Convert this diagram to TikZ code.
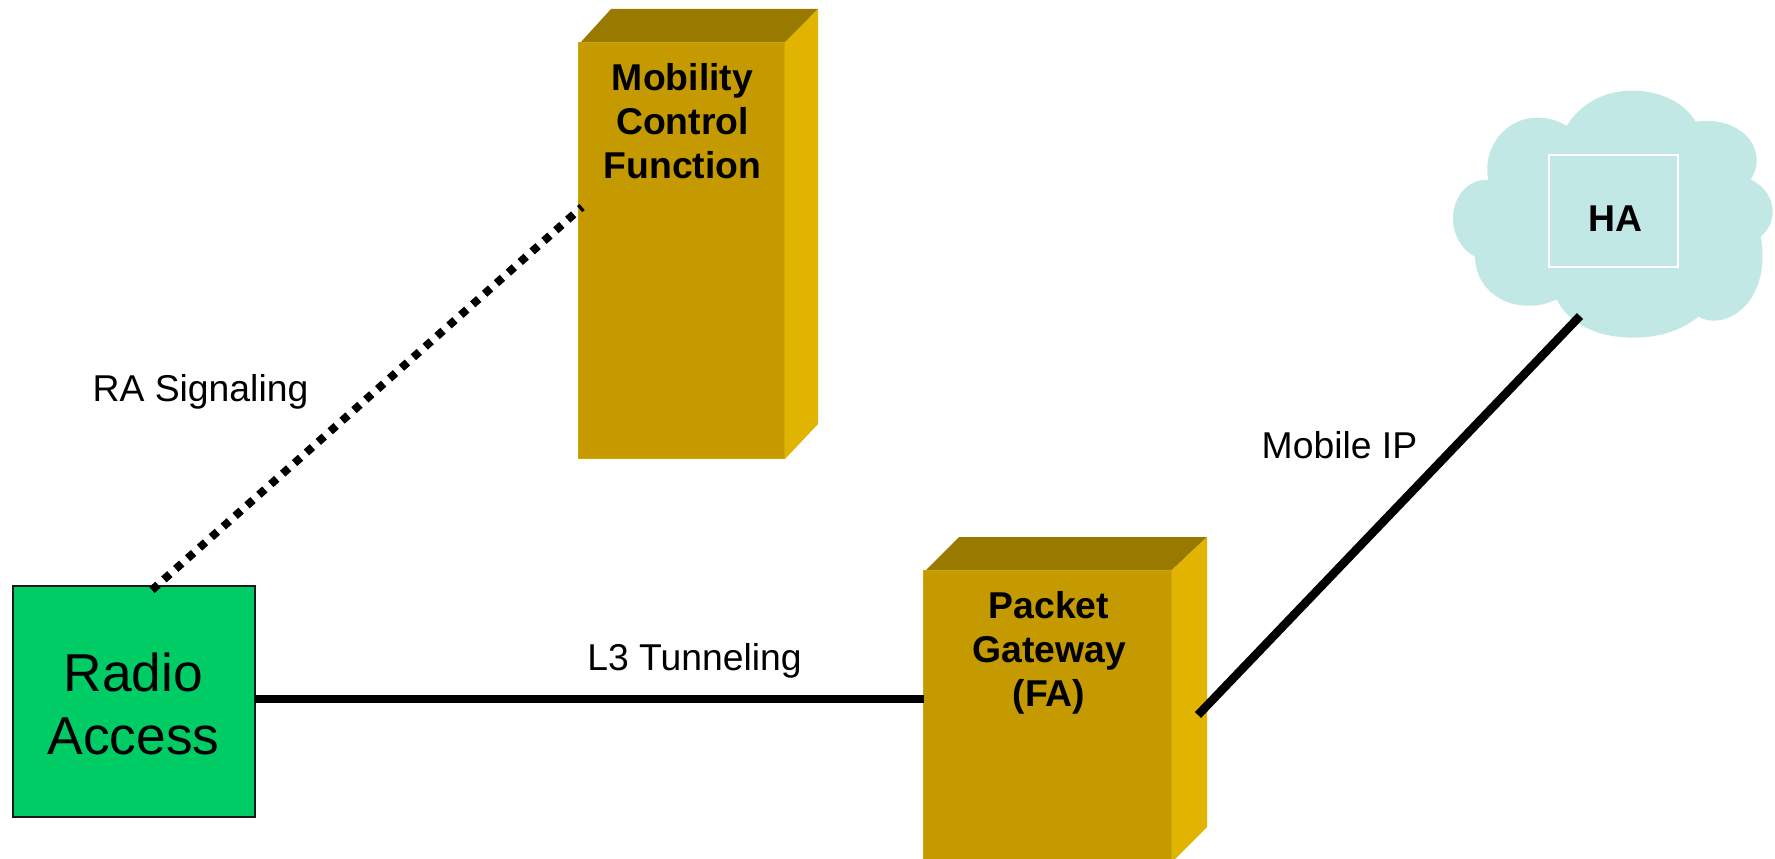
\documentclass[tikz,border=0pt]{standalone}
\usepackage{fontspec}
\setmainfont{Liberation Sans}
\definecolor{boxfront}{HTML}{C49A00}
\definecolor{boxtop}{HTML}{997A00}
\definecolor{boxside}{HTML}{E0B400}
\definecolor{boxedge}{HTML}{D0A600}
\definecolor{cloudfill}{HTML}{C2E8E5}
\definecolor{radiofill}{HTML}{00CC66}
\tikzset{
  front/.style={fill=boxfront,draw=boxedge,line width=0.75pt,inner sep=0pt,outer sep=0pt,rectangle},
  boxlabel/.style={font=\fontsize{28}{33}\selectfont\bfseries,align=center,inner sep=0pt,text=black},
  linklabel/.style={font=\fontsize{28}{33}\selectfont,inner sep=0pt,text=black},
  wire/.style={line width=6.4pt,black,line cap=butt},
  dotwire/.style={line width=6pt,black,dash pattern=on 6pt off 5.93pt,line cap=butt},
  radiobox/.style={fill=radiofill,draw=black!90,line width=1.5pt,inner sep=0pt,outer sep=0pt,rectangle,
    minimum width=181.5pt,minimum height=173.25pt},
  radiolabel/.style={font=\fontsize{40}{47}\selectfont,align=center,inner sep=0pt,text=black},
  hamark/.style={draw=white,fill=cloudfill,line width=1.5pt,inner sep=0pt,outer sep=0pt,rectangle,
    minimum width=97pt,minimum height=84pt}
}
\begin{document}
\begin{tikzpicture}[x=0.75pt,y=-0.75pt]
\useasboundingbox (0,0) rectangle (1775,859);
\clip (0,0) rectangle (1775,859);
% Mobility Control Function box
\fill[boxtop] (580,43) -- (611,9) -- (818,9) -- (785,43) -- cycle;
\fill[boxside] (785,42) -- (818,9) -- (818,424) -- (785,459) -- cycle;
\node[front,minimum width=154.5pt,minimum height=311.25pt] (mcf) at (681.5,250.5) {};
\node[boxlabel] (mcftext) at (682.5,121) {Mobility\\Control\\Function};
% Packet Gateway box
\fill[boxtop] (926,570) -- (959,537) -- (1207,537) -- (1172,570) -- cycle;
\fill[boxside] (1172,570) -- (1207,537) -- (1207,827) -- (1172,862) -- cycle;
\node[front,minimum width=186pt,minimum height=247.5pt] (gw) at (1047.5,735) {};
\node[boxlabel] (gwtext) at (1049,653) {Packet\\Gateway\\(FA)};
% Cloud
\begin{scope}[shift={(1430,70)},x=0.25pt,y=-0.25pt]
\fill[cloudfill] (410,168)
  .. controls (455,95) and (530,62) .. (605,62)
  .. controls (690,62) and (760,95) .. (797,155)
  .. controls (890,140) and (980,190) .. (980,272)
  .. controls (980,295) and (973,312) .. (962,328)
  .. controls (1005,350) and (1028,385) .. (1028,425)
  .. controls (1028,455) and (1015,480) .. (992,500)
  .. controls (1005,570) and (995,640) .. (960,690)
  .. controls (925,740) and (860,770) .. (805,740)
  .. controls (750,785) and (680,803) .. (610,803)
  .. controls (500,803) and (415,760) .. (380,688)
  .. controls (340,706) and (320,707) .. (295,707)
  .. controls (200,707) and (135,640) .. (135,560)
  .. controls (95,540) and (69,495) .. (69,445)
  .. controls (69,380) and (115,325) .. (175,330)
  .. controls (155,230) and (230,143) .. (320,143)
  .. controls (355,143) and (385,152) .. (410,168) -- cycle;
\end{scope}
\node[hamark] (ha) at (1613.5,211) {};
\node[font=\fontsize{28}{33}\selectfont\bfseries,inner sep=0pt] (hatext) at (1615,219) {HA};
% Radio Access
\node[radiobox] (radio) at (134,701.5) {};
\node[radiolabel] (radiotext) at (133.5,704) {Radio\\Access};
% Connector ends
\coordinate (dotA) at (152,590);
\coordinate (dotB) at (582,207);
\coordinate (tunA) at (radio.east |- 0,699);
\coordinate (tunB) at (gw.west |- 0,699);
\coordinate (ipA) at (1198,715);
\coordinate (ipB) at (1580,316);
% Connectors
\draw[dotwire] (dotA) -- (dotB);
\draw[wire] (tunA) -- (tunB);
\draw[wire] (ipA) -- (ipB);
% Labels
\node[linklabel] (ralabel) at (200.5,392) {RA Signaling};
\node[linklabel] (l3label) at (694.5,661) {L3 Tunneling};
\node[linklabel] (iplabel) at (1339.5,445) {Mobile IP};
\end{tikzpicture}
\end{document}
